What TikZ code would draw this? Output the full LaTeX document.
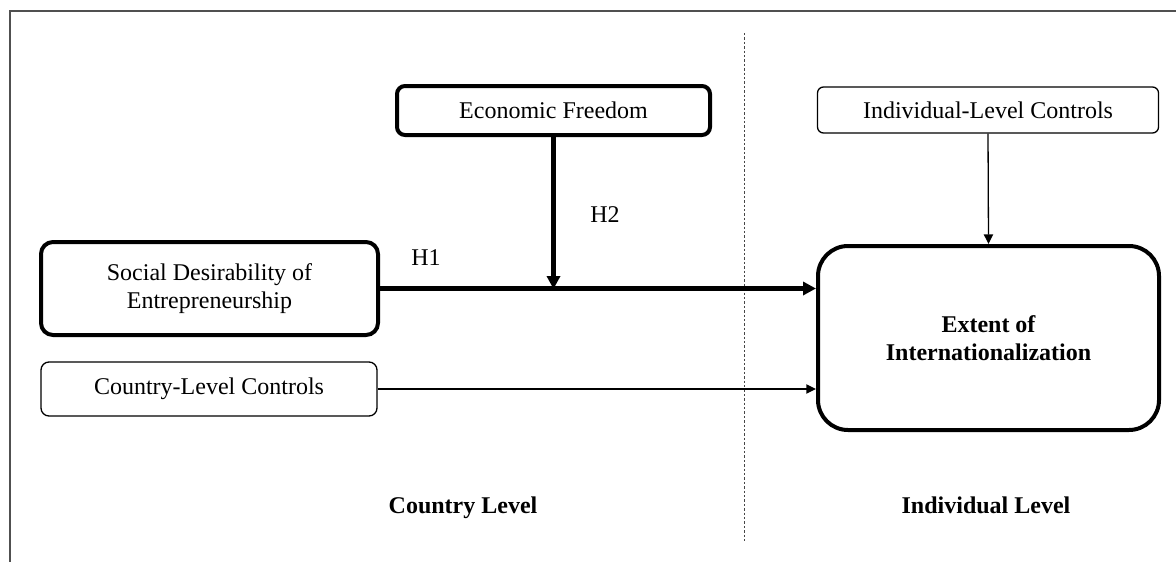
\documentclass[tikz,border=0pt]{standalone}
\usepackage{fontspec}
\setmainfont{Liberation Serif}
\usetikzlibrary{arrows.meta}

\tikzset{
	box/.style={draw, align=center, inner sep=0pt, font=\fontsize{12}{13.8}\selectfont},
	boldbox/.style={box, line width=2pt},
	thinbox/.style={box, line width=0.65pt},
	bigarrow/.style={line width=2.1pt, -{Triangle[length=6.5pt,width=6.5pt]}},
	smallarrow/.style={line width=0.65pt, -{Triangle[length=4.8pt,width=4.6pt]}},
	lbl/.style={anchor=base, inner sep=0pt, font=\fontsize{12}{13.8}\selectfont}
}

\begin{document}
\begin{tikzpicture}[x=0.5pt,y=0.5pt,yscale=-1,xscale=1]
	\useasboundingbox (0,0) rectangle (1176,562);
	
	%Frame lines
	\coordinate (topleft) at (10,11);
	\coordinate (topright) at (1176,11);
	\coordinate (bottomleft) at (10,562);
	\draw [color={rgb, 255:red, 80; green, 80; blue, 80}, line width=0.55pt] (topright) -- (topleft) -- (bottomleft);
	
	%Dashed separator
	\coordinate (septop) at (744,33);
	\coordinate (sepbottom) at (744,542);
	\draw [color={rgb, 255:red, 70; green, 70; blue, 70}, line width=0.5pt, dash pattern=on 1.2pt off 1pt] (septop) -- (sepbottom);
	
	%Shape: Rounded Rect
	\node [boldbox, rounded corners=4pt, minimum width=156.5pt, minimum height=24.5pt] (ef) at (553.5,110.5) {Economic Freedom};
	%Shape: Rounded Rect
	\node [thinbox, rounded corners=3pt, minimum width=170.5pt, minimum height=23pt] (ilc) at (988,110) {Individual-Level Controls};
	%Shape: Rounded Rect
	\node [boldbox, rounded corners=6pt, minimum width=168.5pt, minimum height=46.5pt] (sd) at (209.5,288.5) {Social Desirability of\\Entrepreneurship};
	%Shape: Rounded Rect
	\node [thinbox, rounded corners=4pt, minimum width=168pt, minimum height=27pt] (cc) at (209,389) {Country-Level Controls};
	%Shape: Rounded Rect
	\node [boldbox, rounded corners=15pt, minimum width=170.5pt, minimum height=92pt] (ext) at (988.5,338) {\bfseries Extent of\\\bfseries Internationalization};
	
	%Straight Lines
	\coordinate (mod) at (553.5,289);
	\draw [bigarrow] (sd.east) -- (sd.east -| ext.west);
	\draw [bigarrow] (ef.south) -- (mod);
	\draw [smallarrow] (cc.east) -- (cc.east -| ext.west);
	\draw [smallarrow] (ilc.south) -- (ext.north);
	
	% Text Node
	\node [lbl] (h1) at (426,265) {H1};
	% Text Node
	\node [lbl] (h2) at (605,222.5) {H2};
	% Text Node
	\node [lbl, font=\fontsize{12}{13.8}\selectfont\bfseries] (country) at (463,513) {Country Level};
	% Text Node
	\node [lbl, font=\fontsize{12}{13.8}\selectfont\bfseries] (individual) at (986,513) {Individual Level};
	
\end{tikzpicture}
\end{document}
